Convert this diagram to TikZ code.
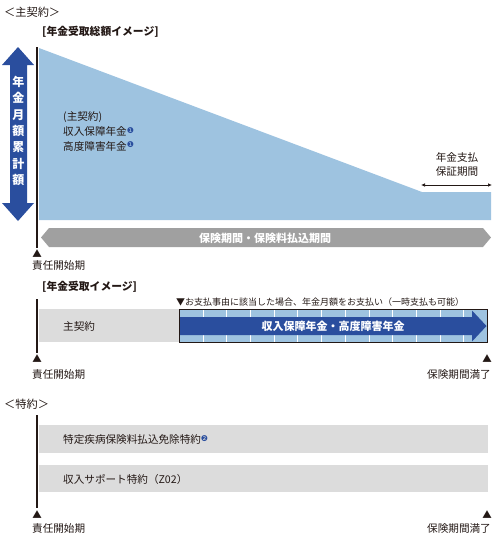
\documentclass[tikz,border=0pt]{standalone}
\usepackage{fontspec}
\setmainfont{Noto Sans CJK JP}
\newfontfamily\djv{DejaVu Sans}
\usetikzlibrary{arrows.meta}
\definecolor{dblue}{HTML}{2A4E9E}
\definecolor{lblue}{HTML}{9EC3E0}
\definecolor{mgray}{HTML}{A0A0A0}
\definecolor{lgray}{HTML}{DCDCDC}
\definecolor{ink}{HTML}{231815}
\newcommand{\cnum}[1]{{\djv\fontsize{8}{8}\selectfont\color{dblue}\raisebox{2.5pt}{#1}}}
\begin{document}
\begin{tikzpicture}[x=1pt,y=-1pt,
  txt/.style={inner sep=0pt, text=ink, font=\fontsize{10.6}{12}\selectfont},
  head/.style={inner sep=0pt, text=ink, font=\fontsize{11.2}{12}\selectfont},
  sub/.style={inner sep=0pt, text=ink, font=\bfseries\fontsize{10.8}{12}\selectfont},
  wtxt/.style={inner sep=0pt, text=white, font=\bfseries\fontsize{11}{12}\selectfont},
  tmark/.style={inner sep=0pt, text=ink, font=\fontsize{9.5}{10}\selectfont},
  note/.style={inner sep=0pt, text=ink, font=\fontsize{9}{10}\selectfont},
  vline/.style={draw=ink, line width=2.6pt},
  ]
\useasboundingbox (0,0) rectangle (494,539);

% ---------- section 1 ----------
\node[head, anchor=west] (h1) at (4,12) {＜主契約＞};
\node[sub, anchor=west] (s1) at (42,32) {[年金受取総額イメージ]};

\fill[lblue] (39,48) -- (422,192) -- (491,192) -- (491,220) -- (39,220) -- cycle;

% left double arrow
\fill[dblue] (18,47) -- (34,65) -- (27,65) -- (27,203) -- (34,203) -- (18,221)
  -- (2,203) -- (10,203) -- (10,65) -- (2,65) -- cycle;
\node[inner sep=0pt, text=white, align=center,
  font=\bfseries\fontsize{12}{16.3}\selectfont] (va) at (18.5,131)
  {年\\金\\月\\額\\累\\計\\額};

\node[txt, anchor=west] (m1) at (63,117) {(主契約)};
\node[txt, anchor=west] (m2) at (63,131.5) {収入保障年金\cnum{❶}};
\node[txt, anchor=west] (m3) at (63,146) {高度障害年金\cnum{❶}};

\node[txt] (g1) at (457,157) {年金支払};
\node[txt] (g2) at (457,172) {保証期間};
\coordinate (ga) at (421,185);
\coordinate (gb) at (492,185);
\draw[ink, line width=0.7pt, {Latex[length=4pt,width=3.5pt]}-{Latex[length=4pt,width=3.5pt]}] (ga) -- (gb);

\fill[mgray] (41,237.5) -- (49,228) -- (483,228) -- (491,237.5) -- (483,247) -- (49,247) -- cycle;
\node[wtxt] (p1) at (265,238) {保険期間・保険料払込期間};

\draw[vline] (37,47) -- (37,248);
\node[tmark] (k1) at (37,254) {▲};
\node[txt, anchor=west] (r1) at (32,265) {責任開始期};

% ---------- section 2 ----------
\node[sub, anchor=west] (s2) at (42,287) {[年金受取イメージ]};
\draw[vline] (37,299) -- (37,353);
\fill[lgray] (39,309) rectangle (179,342);
\node[txt, anchor=west] (c1) at (63,326) {主契約};

\node[note, anchor=west] (n1) at (176,302) {▼お支払事由に該当した場合、年金月額をお支払い（一時支払も可能）};

\filldraw[fill=lblue, draw=ink, line width=0.8pt] (179.5,309.5) rectangle (487,342.5);
\foreach \i in {0,...,11}
  \draw[white, line width=0.8pt] ({203+23.7*\i},310) -- ++(0,32);
\fill[dblue] (180,317) -- (472,317) -- (472,310.5) -- (486.5,326) -- (472,341.5) -- (472,335) -- (180,335) -- cycle;
\node[wtxt] (b1) at (333,326.5) {収入保障年金・高度障害年金};

\node[tmark] (k2) at (37,359) {▲};
\node[txt, anchor=west] (r2) at (32,374) {責任開始期};
\node[tmark] (k3) at (487,359) {▲};
\node[txt, anchor=east] (e2) at (491,374) {保険期間満了};

% ---------- section 3 ----------
\node[head, anchor=west] (h3) at (4,404) {＜特約＞};
\draw[vline] (37,415) -- (37,508);
\fill[lgray] (39,425) rectangle (488,453);
\fill[lgray] (39,465) rectangle (488,492);
\node[txt, anchor=west] (x1) at (63,439.5) {特定疾病保険料払込免除特約\cnum{❷}};
\node[txt, anchor=west] (x2) at (63,479) {収入サポート特約（Z02）};

\node[tmark] (k4) at (37,515) {▲};
\node[txt, anchor=west] (r3) at (32,528) {責任開始期};
\node[tmark] (k5) at (487,515) {▲};
\node[txt, anchor=east] (e3) at (491,528) {保険期間満了};
\end{tikzpicture}
\end{document}
